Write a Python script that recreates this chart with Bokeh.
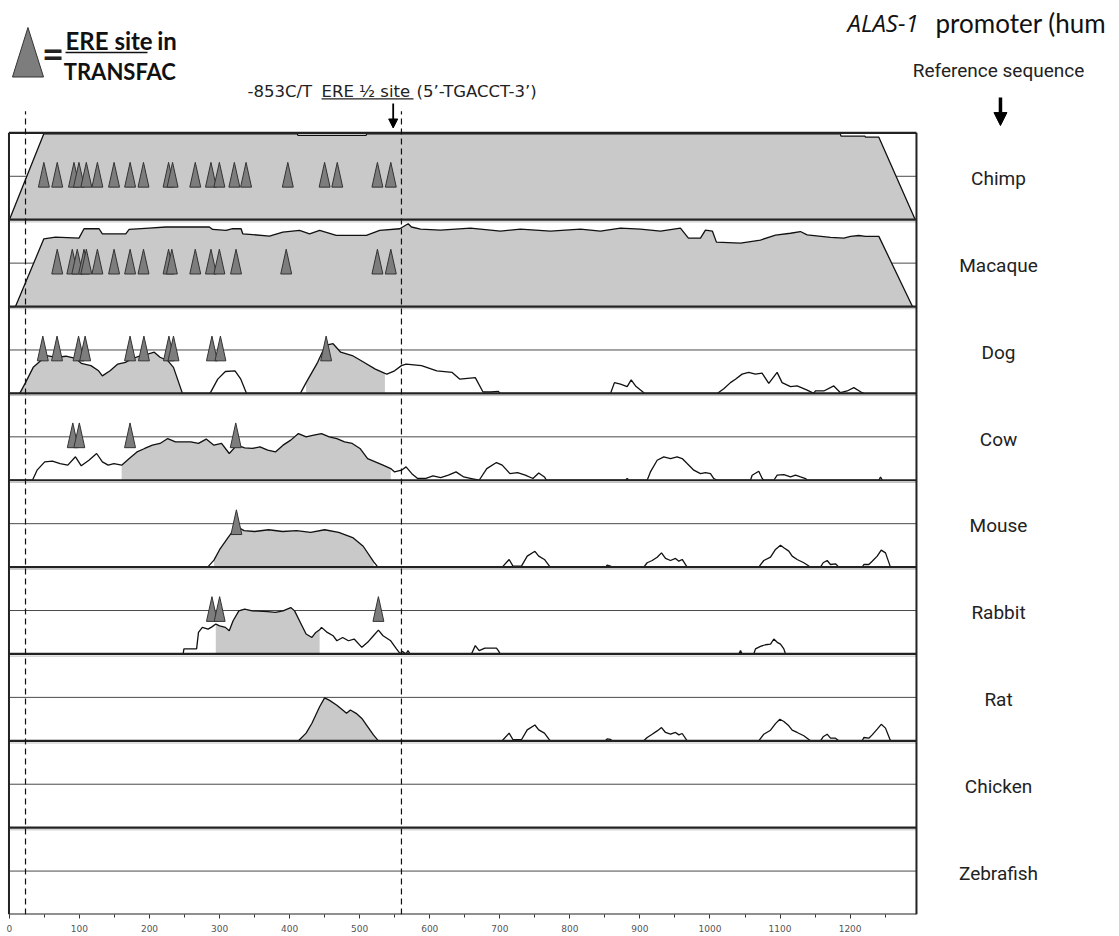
import numpy as np
from bokeh.plotting import figure
from bokeh.models import Range1d, FixedTicker, Arrow, NormalHead
from bokeh.core.properties import value
from bokeh.embed import file_html
from bokeh.resources import INLINE

# ---------------- data ----------------
species = ["Chimp", "Macaque", "Dog", "Cow", "Mouse", "Rabbit", "Rat", "Chicken", "Zebrafish"]

tick_values = [0, 100, 200, 300, 400, 500, 600, 700, 800, 900, 1000, 1100, 1200]
minor_tick_values = [50, 150, 250, 350, 450, 550, 650, 750, 850, 950, 1050, 1150, 1250]

seq_start, seq_end = 0, 1294.7
dashed_positions = [23, 559.6]

chimp_x = [0, 49, 411, 412, 509, 510, 1186, 1187, 1221, 1222, 1241, 1293]
chimp_c = [50, 99.4, 99.4, 98.5, 98.5, 99.4, 99.4, 98.1, 98.1, 97.5, 97.5, 50]

macaque_x = [0, 8.7, 49.2, 65.9, 99.3, 106.5, 128.0, 132.7, 166.1, 170.9,
             199.5, 223.3, 285.4, 290.1, 309.2, 318.7, 330.7, 333.1, 371.2, 390.3,
             414.1, 428.5, 442.8, 466.6, 509.5, 528.6, 557.2, 569.2, 573.9, 586.8,
             615.3, 658.1, 700.9, 729.4, 772.3, 815.1, 843.6, 872.2, 900.7, 929.3,
             957.8, 969.2, 986.4, 993.5, 1003.5, 1009.2, 1043.5, 1072.0, 1093.5, 1114.9,
             1129.0, 1138.7, 1172.0, 1191.0, 1200.6, 1212.4, 1222.0, 1241.0, 1289.0]
macaque_c = [50, 50, 89.0, 90.0, 89.4, 94.8, 94.8, 91.9, 91.9, 94.4,
             95.2, 95.8, 95.8, 94.4, 93.8, 94.8, 94.8, 91.9, 90.6, 92.9,
             93.8, 91.9, 93.8, 91.0, 91.0, 93.8, 94.8, 97.7, 95.8, 94.6,
             94.0, 95.2, 93.4, 94.6, 93.4, 94.6, 93.4, 95.2, 94.6, 93.4,
             95.2, 89.4, 89.4, 94.0, 93.4, 87.1, 86.5, 88.3, 91.1, 92.2,
             93.2, 91.3, 89.8, 89.4, 90.4, 90.9, 90.4, 90.4, 50]

dog_x = [0, 14.8, 23.0, 34.0, 45.0, 53.2, 66.9, 80.6, 94.3, 102.6,
         116.3, 127.3, 132.7, 143.7, 154.7, 165.7, 173.9, 187.6, 198.6, 206.8,
         215.0, 226.0, 234.2, 247.0, 286.4, 297.4, 308.3, 322.0, 330.3, 338.5,
         415.3, 423.5, 440.0, 451.0, 462.0, 472.9, 489.4, 505.9, 522.3, 536.0,
         538.8, 549.8, 559.6, 566.2, 588.2, 610.1, 632.0, 643.0, 665.0, 676.0,
         687.0, 697.9, 700.6, 858.0, 863.6, 872.2, 881.8, 887.5, 893.7, 900.8,
         906.9, 1010.3, 1019.7, 1029.2, 1036.3, 1045.8, 1055.3, 1064.8, 1074.3, 1083.9,
         1095.8, 1102.9, 1114.9, 1124.4, 1138.7, 1148.1, 1150.5, 1162.4, 1176.7, 1186.2,
         1195.8, 1205.3, 1217.2, 1219.6]
dog_c = [50, 50, 56.2, 65.0, 68.9, 71.8, 70.8, 71.4, 70.2, 67.3,
         66.0, 63.0, 60.1, 63.0, 66.9, 67.9, 69.8, 71.8, 72.8, 73.7,
         70.8, 68.9, 65.0, 50, 50, 58.2, 62.6, 63.0, 58.2, 50,
         50, 56.2, 67.9, 77.6, 78.6, 73.7, 71.8, 67.9, 64.0, 61.5,
         61.1, 63.0, 66.0, 66.9, 66.0, 63.0, 62.1, 58.2, 59.1, 50.8,
         50.8, 51.2, 50, 50, 56.2, 55.3, 53.9, 57.8, 54.3, 51.9,
         50, 50, 52.7, 56.2, 58.2, 61.1, 62.1, 61.1, 61.7, 55.8,
         62.1, 56.2, 53.9, 54.3, 51.9, 50, 51.4, 51.4, 54.3, 50.4,
         51.4, 53.3, 50.4, 50]

cow_x = [0, 32.9, 39.5, 50.4, 61.4, 72.4, 83.4, 94.3, 102.6, 113.5,
         124.5, 132.7, 141.0, 149.2, 160.2, 171.1, 182.1, 193.1, 204.1, 215.0,
         226.0, 237.0, 258.9, 269.9, 280.9, 291.9, 302.8, 313.8, 324.8, 335.8,
         346.7, 357.7, 368.7, 379.7, 390.6, 401.6, 412.6, 423.5, 434.5, 445.5,
         456.5, 467.4, 478.4, 489.4, 500.4, 511.3, 522.3, 533.3, 544.3, 549.8,
         559.6, 566.2, 574.4, 582.7, 593.6, 604.6, 615.6, 626.6, 637.5, 648.5,
         659.5, 670.5, 681.4, 695.2, 703.4, 714.4, 725.3, 736.3, 747.3, 755.5,
         763.7, 766.5, 879.4, 881.8, 884.0, 910.3, 915.0, 924.6, 934.0, 943.6,
         953.1, 960.3, 967.4, 976.9, 986.4, 993.6, 1000.7, 1005.4, 1010.3, 1057.8,
         1060.2, 1069.6, 1074.5, 1076.8, 1091.1, 1095.9, 1105.4, 1114.9, 1122.1, 1129.2,
         1136.3, 1138.7, 1241.0, 1243.4, 1246.0]
cow_c = [50, 50, 55.8, 60.6, 61.0, 59.6, 58.7, 63.5, 58.3, 61.5,
         65.4, 60.6, 58.7, 59.6, 58.7, 62.5, 66.3, 68.3, 70.2, 71.2,
         74.0, 72.1, 72.1, 71.2, 73.7, 70.2, 71.2, 65.4, 70.2, 68.7,
         68.3, 69.2, 67.3, 66.3, 70.2, 73.1, 76.9, 75.0, 76.0, 76.9,
         75.0, 74.0, 72.1, 71.2, 68.3, 62.5, 60.6, 58.7, 56.7, 54.8,
         55.8, 57.7, 53.8, 51.0, 51.0, 52.5, 51.5, 52.9, 54.8, 51.9,
         51.0, 50, 56.7, 60.2, 58.7, 53.8, 54.4, 52.9, 51.0, 54.2,
         51.9, 50, 50, 51.0, 50, 50, 54.8, 61.5, 63.5, 62.5,
         63.5, 62.5, 59.6, 55.8, 53.8, 54.4, 53.8, 51.0, 50, 50,
         52.9, 55.2, 51.0, 50, 50, 52.9, 53.3, 51.9, 52.9, 51.9,
         51.0, 50, 50, 51.9, 50]

mouse_x = [283, 292, 300, 312, 324, 335, 350, 370, 390, 410,
           430, 450, 470, 490, 505, 520, 526,
           703.4, 713.3, 718.8, 730.9, 739.1, 750.1, 755.5, 763.7, 771.9,
           850.8, 853.2, 858.0, 860.4, 905.5, 910.3, 917.5, 924.6, 930.8, 936.5,
           943.6, 950.8, 955.5, 960.3, 967.4, 1069.6, 1076.8, 1086.4, 1093.5, 1100.6,
           1105.4, 1112.5, 1117.3, 1124.4, 1133.9, 1141.1, 1143.4, 1157.7, 1161.5, 1167.2,
           1172.0, 1179.1, 1183.9, 1217.2, 1219.6, 1226.7, 1231.5, 1238.7, 1244.4, 1250.5,
           1257.6]
mouse_c = [50, 54, 60, 67, 73.5, 71, 70.5, 71.5, 70.5, 71,
           70, 71.5, 70, 67, 62, 53, 50,
           50, 54.4, 50.6, 50.6, 56.3, 59.1, 56.3, 54.4, 50,
           50, 51.1, 50.6, 50, 50, 52.5, 53.8, 55.7, 58.2, 55.0,
           53.8, 55.0, 53.4, 54.4, 50, 50, 53.8, 55.7, 60.2, 62.6,
           61.1, 59.2, 56.3, 54.4, 52.5, 50.6, 50, 50, 52.5, 53.8,
           51.5, 51.9, 50, 50, 51.5, 51.5, 53.4, 56.3, 59.8, 58.2,
           50]

rabbit_x = [248.0, 249.1, 258.9, 267.2, 269.9, 275.4, 283.6, 289.1, 294.6, 300.1,
            308.3, 313.8, 319.3, 327.5, 335.8, 346.7, 368.7, 379.7, 390.6, 401.6,
            407.1, 415.3, 423.5, 431.8, 437.3, 442.8, 445.5, 453.7, 462.0, 467.4,
            475.7, 483.9, 492.1, 503.1, 511.3, 519.6, 526.7, 533.3, 544.3, 552.5,
            558.0, 560.7, 566.2, 568.9, 571.7,
            659.5, 665.0, 670.5, 678.7, 695.2, 697.9, 700.6,
            1041.1, 1043.5, 1045.9, 1062.5, 1064.9, 1072.0, 1079.2, 1086.4, 1091.1, 1095.9,
            1100.6, 1105.4, 1107.8]
rabbit_c = [50, 52.9, 52.9, 52.9, 62.4, 65.3, 64.3, 65.6, 67.2, 66.2,
            65.3, 63.4, 69.1, 74.8, 75.8, 74.8, 74.4, 73.9, 74.8, 76.7,
            74.8, 68.1, 61.5, 59.5, 62.4, 63.9, 65.3, 62.4, 60.5, 57.6,
            59.5, 57.6, 58.6, 53.8, 56.7, 60.5, 63.7, 60.5, 57.6, 52.9,
            50, 51.5, 50, 51.9, 50,
            50, 54.8, 51.9, 53.4, 53.4, 51.9, 50,
            50, 51.9, 50, 50, 52.9, 54.4, 55.3, 55.7, 58.6, 56.7,
            55.7, 52.9, 50]

rat_x = [412.6, 423.5, 431.8, 442.8, 449.9, 456.5, 467.4, 475.7, 481.2, 486.7,
         494.9, 503.1, 511.3, 519.6, 526.7,
         703.4, 713.3, 718.8, 730.9, 739.1, 750.1, 755.5, 763.7, 771.9,
         850.8, 853.2, 858.0, 860.4, 905.5, 910.3, 917.5, 924.6, 930.8, 936.5,
         943.6, 950.8, 955.5, 960.3, 967.4, 1069.6, 1076.8, 1086.4, 1093.5, 1099.7,
         1105.4, 1112.5, 1117.3, 1124.4, 1133.9, 1143.4, 1157.7, 1161.5, 1167.2, 1172.0,
         1179.1, 1183.9, 1217.2, 1219.6, 1226.7, 1231.5, 1238.7, 1244.4, 1250.5, 1257.6]
rat_c = [50, 54.4, 60.1, 69.6, 74.7, 73.4, 70.5, 67.7, 65.8, 67.7,
         65.8, 62.9, 58.2, 53.4, 50,
         50, 54.4, 50.6, 50.6, 56.3, 59.1, 56.3, 54.4, 50,
         50, 51.1, 50.8, 50, 50, 51.9, 53.8, 55.7, 57.6, 54.8,
         53.8, 54.8, 53.4, 54.2, 50, 50, 53.8, 56.1, 59.9, 62.4,
         61.1, 58.6, 56.1, 54.8, 52.9, 50, 50, 52.3, 53.8, 51.5,
         51.5, 50, 50, 51.9, 51.5, 53.4, 56.7, 59.5, 57.3, 50]

# conserved (shaded) spans
chimp_fill = [(0, 1293)]
macaque_fill = [(0, 1289)]
dog_fill = [(14.8, 247.0), (423.5, 536.0)]
cow_fill = [(160.2, 544.3)]
mouse_fill = [(292, 520)]
rabbit_fill = [(294.6, 442.8)]
rat_fill = [(412.6, 526.7)]

# ERE sites in TRANSFAC
chimp_sites = [49.2, 68.3, 92.2, 99.3, 109.8, 125.6, 149.4, 172.3, 191.4, 227.2, 232.9,
               265.3, 287.7, 299.7, 321.1, 337.8, 397.4, 449.9, 468.0, 525.3, 544.4]
macaque_sites = [68.3, 89.8, 96.9, 106.5, 109.8, 125.6, 149.4, 172.3, 191.4, 227.2, 231.9,
                 265.3, 287.7, 299.7, 323.5, 395.1, 525.3, 544.4]
dog_sites = [47.7, 68.0, 98.7, 108.1, 172.2, 192.0, 227.7, 234.2, 289.1, 301.2, 452.1]
cow_sites = [90.5, 99.8, 172.2, 323.1]
mouse_sites = [324.0]
rabbit_sites = [289.1, 300.1, 526.7]
rat_sites = []

curves = {
    "Chimp": (chimp_x, chimp_c, chimp_fill, chimp_sites),
    "Macaque": (macaque_x, macaque_c, macaque_fill, macaque_sites),
    "Dog": (dog_x, dog_c, dog_fill, dog_sites),
    "Cow": (cow_x, cow_c, cow_fill, cow_sites),
    "Mouse": (mouse_x, mouse_c, mouse_fill, mouse_sites),
    "Rabbit": (rabbit_x, rabbit_c, rabbit_fill, rabbit_sites),
    "Rat": (rat_x, rat_c, rat_fill, rat_sites),
}

for k, (xx, cc, _, _) in curves.items():
    assert len(xx) == len(cc), k

# ---------------- figure ----------------
n = len(species)
p = figure(width=1119, height=936,
           x_range=Range1d(-12.7, 1584.5), y_range=Range1d(0, 10.524),
           output_backend="svg", toolbar_location=None, y_axis_location=None,
           min_border_left=0, min_border_right=0, min_border_top=0, min_border_bottom=22)
p.grid.visible = False
p.outline_line_color = None
p.background_fill_color = "white"

def base_of(i):
    return n - 1 - i

x_left = seq_start - 0.6

# midlines (75%)
for i, sp in enumerate(species):
    b = base_of(i)
    p.line([x_left, seq_end], [b + 0.5, b + 0.5], line_color="#4a4a4a", line_width=1)

# fills and curves
for i, sp in enumerate(species):
    if sp not in curves:
        continue
    xx, cc, spans, sites = curves[sp]
    b = base_of(i)
    xa = np.array(xx, dtype=float)
    ya = b + (np.array(cc, dtype=float) - 50.0) / 50.0
    for (s0, s1) in spans:
        m = (xa >= s0 - 1e-6) & (xa <= s1 + 1e-6)
        p.varea(x=xa[m], y1=np.full(m.sum(), b), y2=ya[m], fill_color="#c9c9c9")
    p.line(xa, ya, line_color="#111111", line_width=1.3)

# panel frame
for j in range(n + 1):
    p.line([x_left, seq_end], [j, j], line_color="#222222", line_width=2.2)
    if 0 < j < n:
        p.line([x_left, seq_end], [j - 0.025, j - 0.025], line_color="#c0c0c0", line_width=1)
p.line([x_left, x_left], [0, n], line_color="#222222", line_width=2)
p.line([seq_end, seq_end], [0, n], line_color="#222222", line_width=2)

# ERE triangles
tri_xs, tri_ys = [], []
for i, sp in enumerate(species):
    if sp not in curves:
        continue
    mid = base_of(i) + 0.5
    for s in curves[sp][3]:
        tri_xs.append([s - 7.8, s, s + 7.8])
        tri_ys.append([mid - 0.125, mid + 0.16, mid - 0.125])
p.patches(tri_xs, tri_ys, fill_color="#7d7d7d", line_color="#333333", line_width=1)

# legend triangle
p.patches([[4.4, 26.5, 48.7]], [[9.643, 10.213, 9.643]], fill_color="#7d7d7d",
          line_color="#333333", line_width=1)

# dashed lines
for dx in dashed_positions:
    p.line([dx, dx], [0, 9.25], line_color="#111111", line_width=1.2, line_dash="6 4")

# axis
ax = p.xaxis[0]
ax.ticker = FixedTicker(ticks=tick_values, minor_ticks=minor_tick_values)
ax.axis_line_color = None
ax.major_tick_in = 0
ax.major_tick_out = 4
ax.minor_tick_in = 0
ax.minor_tick_out = 3
ax.major_tick_line_color = "#333333"
ax.minor_tick_line_color = "#333333"
ax.major_label_standoff = 6
ax.major_label_text_font = "DejaVu Sans"
ax.major_label_text_font_size = "9px"
ax.major_label_text_color = "#555555"

# species labels
p.text(x=[1411.8] * n, y=[base_of(i) + 0.475 for i in range(n)], text=species,
       text_font=value("Roboto"), text_font_size="19px", text_color="#222222",
       text_align="center", text_baseline="middle")

# header texts
p.text(x=[1196.2], y=[10.265], text=["ALAS-1"], text_font=value("Open Sans"), text_font_size="24px",
       text_font_style="italic", text_color="#111111", text_align="left", text_baseline="middle")
p.text(x=[1321.9], y=[10.265], text=["promoter (hum"], text_font=value("Lato"), text_font_size="26px",
       text_color="#111111", text_align="left", text_baseline="middle")
p.text(x=[1411.8], y=[9.714], text=["Reference sequence"], text_font=value("Roboto"),
       text_font_size="19px", text_color="#222222", text_align="center", text_baseline="middle")
p.add_layout(Arrow(end=NormalHead(size=13, fill_color="black", line_color="black"),
                   x_start=1414.6, y_start=9.407, x_end=1414.6, y_end=9.084,
                   line_width=3.5, line_color="black"))

# ERE half site annotation
p.text(x=[339.8, 445.5, 581.1], y=[9.476] * 3,
       text=["-853C/T", "ERE \u00bd site", "(5\u2019-TGACCT-3\u2019)"],
       text_font=value("DejaVu Sans"), text_font_size="16.5px", text_color="#222222",
       text_align="left", text_baseline="middle")
p.line([445.5, 576.8], [9.392, 9.392], line_color="#222222", line_width=1.2)
p.add_layout(Arrow(end=NormalHead(size=9, fill_color="black", line_color="black"),
                   x_start=547.8, y_start=9.338, x_end=547.8, y_end=9.056,
                   line_width=1.8, line_color="black"))

# legend text
p.text(x=[62.2], y=[9.920], text=["="], text_font=value("Lato"), text_font_size="38px",
       text_font_style="bold", text_color="#222222", text_align="center", text_baseline="middle")
p.text(x=[80.1, 211.0], y=[10.058, 10.058], text=["ERE site", "in"], text_font=value("Lato"),
       text_font_size="24px", text_font_style="bold", text_color="#111111",
       text_align="left", text_baseline="middle")
p.line([80.1, 197.1], [9.925, 9.925], line_color="#111111", line_width=1.5)
p.text(x=[77.6], y=[9.701], text=["TRANSFAC"], text_font=value("Lato"),
       text_font_size="22px", text_font_style="bold", text_color="#111111",
       text_align="left", text_baseline="middle")

open("out.html", "w").write(file_html(p, INLINE))
